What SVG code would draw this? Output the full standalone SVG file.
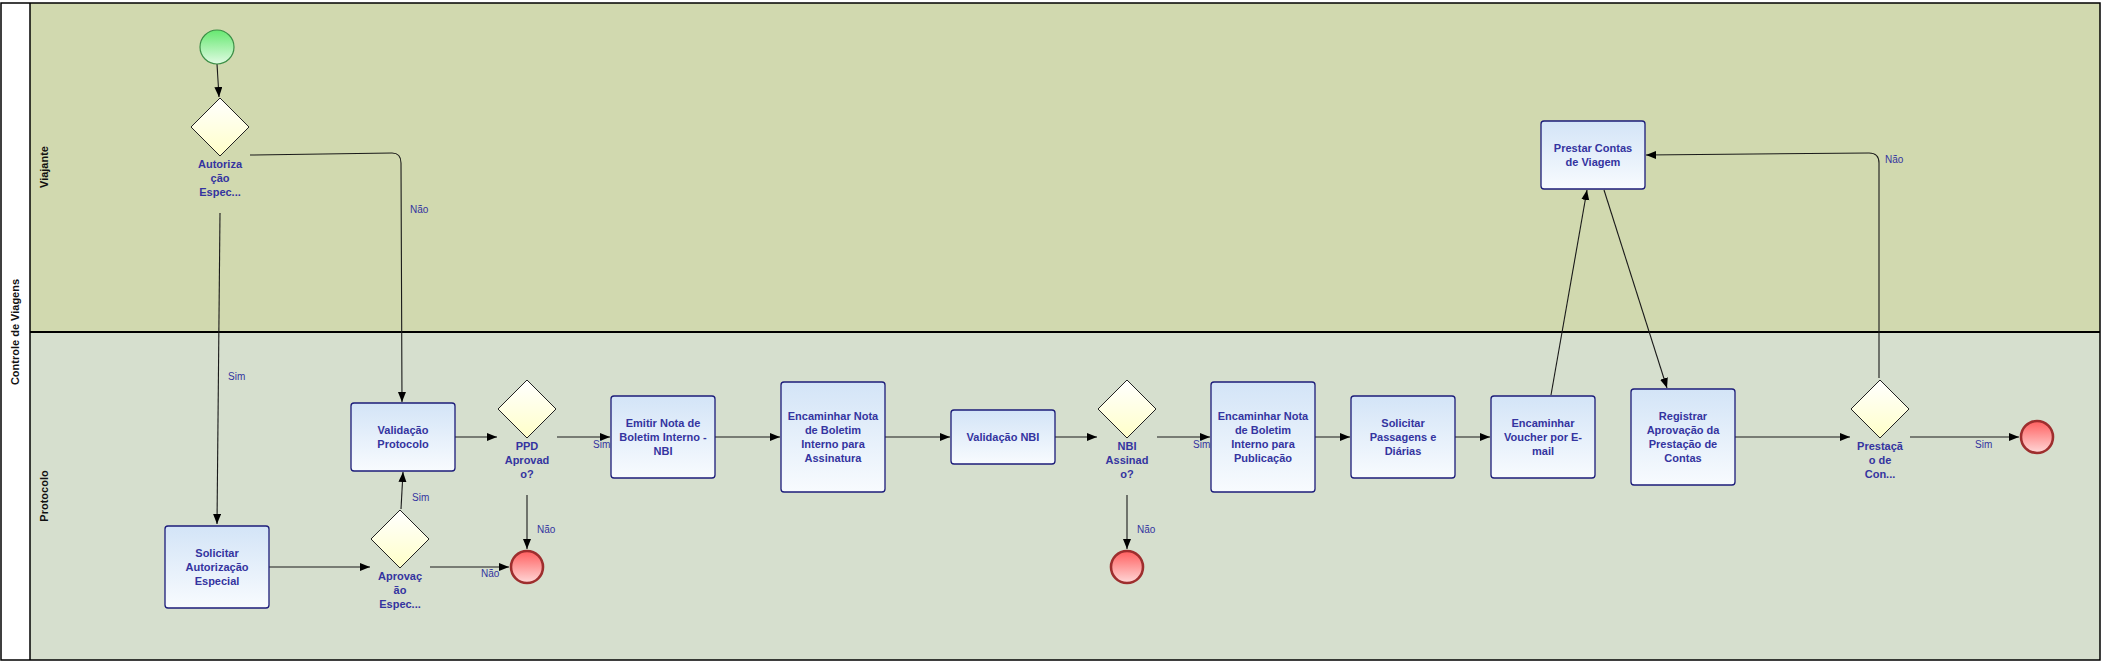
<svg xmlns="http://www.w3.org/2000/svg" width="2111" height="668" viewBox="0 0 2111 668">
<defs>
<linearGradient id="gTask" x1="0" y1="0" x2="0" y2="1"><stop offset="0" stop-color="#D3E4F7"/><stop offset="1" stop-color="#F8FBFE"/></linearGradient>
<linearGradient id="gGw" x1="0" y1="0" x2="0" y2="1"><stop offset="0" stop-color="#FFFFFF"/><stop offset="1" stop-color="#FFFFC8"/></linearGradient>
<linearGradient id="gStart" x1="0" y1="0" x2="0" y2="1"><stop offset="0" stop-color="#66E870"/><stop offset="1" stop-color="#E0FBE3"/></linearGradient>
<linearGradient id="gEnd" x1="0" y1="0" x2="0" y2="1"><stop offset="0" stop-color="#FF5F5F"/><stop offset="1" stop-color="#FFD8D8"/></linearGradient>
<marker id="arr" markerUnits="userSpaceOnUse" markerWidth="12" markerHeight="10" refX="10" refY="4" orient="auto"><path d="M0,0 L10,4 L0,8 z" fill="#000"/></marker>
<style>
.task{fill:url(#gTask);stroke:#1C1C7A;stroke-width:1.3}
.gw{fill:url(#gGw);stroke:#222;stroke-width:1}
.start{fill:url(#gStart);stroke:#3C8F46;stroke-width:1.2}
.end{fill:url(#gEnd);stroke:#9E2E2E;stroke-width:2.6}
.t{font-family:"Liberation Sans",Arial,sans-serif;font-size:11px;font-weight:bold;fill:#3434A0;text-anchor:middle}
.el{font-family:"Liberation Sans",Arial,sans-serif;font-size:10px;fill:#3434A0}
.lane{font-family:"Liberation Sans",Arial,sans-serif;font-size:11px;font-weight:bold;fill:#111;text-anchor:middle}
.c{fill:none;stroke:#1a1a1a;stroke-width:1.1;marker-end:url(#arr)}
</style>
</defs>
<rect x="0" y="0" width="2111" height="668" fill="#FFFFFF"/>
<g id="pool">
<rect x="30" y="3" width="2070" height="329" fill="#D1D9AF"/>
<rect x="30" y="332" width="2070" height="328" fill="#D6DFCE"/>
<rect x="1" y="3" width="2099" height="657" fill="none" stroke="#000" stroke-width="1.5"/>
<line x1="30" y1="3" x2="30" y2="660" stroke="#000" stroke-width="1.5"/>
<line x1="30" y1="332" x2="2100" y2="332" stroke="#000" stroke-width="2"/>
<text class="lane" transform="translate(19,332) rotate(-90)">Controle de Viagens</text>
<text class="lane" transform="translate(48,167) rotate(-90)">Viajante</text>
<text class="lane" transform="translate(48,496) rotate(-90)">Protocolo</text>
</g>
<g id="connectors">
<path class="c" d="M217,64 L219,97"/>
<path class="c" d="M220,213 L217,524"/>
<path class="c" d="M250,155 L392,153 Q401,153 401,163 L402,402"/>
<path class="c" d="M269,567 L370,567"/>
<path class="c" d="M401,509 L403,472"/>
<path class="c" d="M430,567 L509,567"/>
<path class="c" d="M455,437 L497,437"/>
<path class="c" d="M527,495 L527,549"/>
<path class="c" d="M557,437 L610,437"/>
<path class="c" d="M715,437 L780,437"/>
<path class="c" d="M885,437 L950,437"/>
<path class="c" d="M1055,437 L1097,437"/>
<path class="c" d="M1127,495 L1127,549"/>
<path class="c" d="M1157,437 L1210,437"/>
<path class="c" d="M1315,437 L1350,437"/>
<path class="c" d="M1455,437 L1490,437"/>
<path class="c" d="M1551,395 L1587,190"/>
<path class="c" d="M1604,190 L1667,388"/>
<path class="c" d="M1735,437 L1850,437"/>
<path class="c" d="M1910,437 L2019,437"/>
<path class="c" d="M1879,378 L1879,163 Q1879,153 1869,153 L1646,155"/>
<text class="el" x="410" y="213">Não</text>
<text class="el" x="228" y="380">Sim</text>
<text class="el" x="412" y="501">Sim</text>
<text class="el" x="481" y="577">Não</text>
<text class="el" x="537" y="533">Não</text>
<text class="el" x="593" y="448">Sim</text>
<text class="el" x="1137" y="533">Não</text>
<text class="el" x="1193" y="448">Sim</text>
<text class="el" x="1975" y="448">Sim</text>
<text class="el" x="1885" y="163">Não</text>
</g>
<g id="start">
<circle class="start" cx="217" cy="47" r="17"/>
</g>
<g id="gw_autorizacao">
<polygon class="gw" points="220,98 249,127 220,156 191,127"/>
<text class="t" x="220" y="168">Autoriza</text>
<text class="t" x="220" y="182">ção</text>
<text class="t" x="220" y="196">Espec...</text>
</g>
<g id="task_solicitar_autorizacao">
<rect class="task" x="165" y="526" width="104" height="82" rx="3"/>
<text class="t" x="217" y="557">Solicitar</text>
<text class="t" x="217" y="571">Autorização</text>
<text class="t" x="217" y="585">Especial</text>
</g>
<g id="gw_aprovacao">
<polygon class="gw" points="400,510 429,539 400,568 371,539"/>
<text class="t" x="400" y="580">Aprovaç</text>
<text class="t" x="400" y="594">ão</text>
<text class="t" x="400" y="608">Espec...</text>
</g>
<g id="end1">
<circle class="end" cx="527" cy="567" r="16"/>
</g>
<g id="task_validacao_protocolo">
<rect class="task" x="351" y="403" width="104" height="68" rx="3"/>
<text class="t" x="403" y="434">Validação</text>
<text class="t" x="403" y="448">Protocolo</text>
</g>
<g id="gw_ppd">
<polygon class="gw" points="527,380 556,409 527,438 498,409"/>
<text class="t" x="527" y="450">PPD</text>
<text class="t" x="527" y="464">Aprovad</text>
<text class="t" x="527" y="478">o?</text>
</g>
<g id="task_emitir">
<rect class="task" x="611" y="396" width="104" height="82" rx="3"/>
<text class="t" x="663" y="427">Emitir Nota de</text>
<text class="t" x="663" y="441">Boletim Interno -</text>
<text class="t" x="663" y="455">NBI</text>
</g>
<g id="task_enc_assinatura">
<rect class="task" x="781" y="382" width="104" height="110" rx="3"/>
<text class="t" x="833" y="420">Encaminhar Nota</text>
<text class="t" x="833" y="434">de Boletim</text>
<text class="t" x="833" y="448">Interno para</text>
<text class="t" x="833" y="462">Assinatura</text>
</g>
<g id="task_validacao_nbi">
<rect class="task" x="951" y="410" width="104" height="54" rx="3"/>
<text class="t" x="1003" y="441">Validação NBI</text>
</g>
<g id="gw_nbi">
<polygon class="gw" points="1127,380 1156,409 1127,438 1098,409"/>
<text class="t" x="1127" y="450">NBI</text>
<text class="t" x="1127" y="464">Assinad</text>
<text class="t" x="1127" y="478">o?</text>
</g>
<g id="end2">
<circle class="end" cx="1127" cy="567" r="16"/>
</g>
<g id="task_enc_publicacao">
<rect class="task" x="1211" y="382" width="104" height="110" rx="3"/>
<text class="t" x="1263" y="420">Encaminhar Nota</text>
<text class="t" x="1263" y="434">de Boletim</text>
<text class="t" x="1263" y="448">Interno para</text>
<text class="t" x="1263" y="462">Publicação</text>
</g>
<g id="task_solicitar_passagens">
<rect class="task" x="1351" y="396" width="104" height="82" rx="3"/>
<text class="t" x="1403" y="427">Solicitar</text>
<text class="t" x="1403" y="441">Passagens e</text>
<text class="t" x="1403" y="455">Diárias</text>
</g>
<g id="task_voucher">
<rect class="task" x="1491" y="396" width="104" height="82" rx="3"/>
<text class="t" x="1543" y="427">Encaminhar</text>
<text class="t" x="1543" y="441">Voucher por E-</text>
<text class="t" x="1543" y="455">mail</text>
</g>
<g id="task_prestar_contas">
<rect class="task" x="1541" y="121" width="104" height="68" rx="3"/>
<text class="t" x="1593" y="152">Prestar Contas</text>
<text class="t" x="1593" y="166">de Viagem</text>
</g>
<g id="task_registrar">
<rect class="task" x="1631" y="389" width="104" height="96" rx="3"/>
<text class="t" x="1683" y="420">Registrar</text>
<text class="t" x="1683" y="434">Aprovação da</text>
<text class="t" x="1683" y="448">Prestação de</text>
<text class="t" x="1683" y="462">Contas</text>
</g>
<g id="gw_prestacao">
<polygon class="gw" points="1880,380 1909,409 1880,438 1851,409"/>
<text class="t" x="1880" y="450">Prestaçã</text>
<text class="t" x="1880" y="464">o de</text>
<text class="t" x="1880" y="478">Con...</text>
</g>
<g id="end3">
<circle class="end" cx="2037" cy="437" r="16"/>
</g>
</svg>
